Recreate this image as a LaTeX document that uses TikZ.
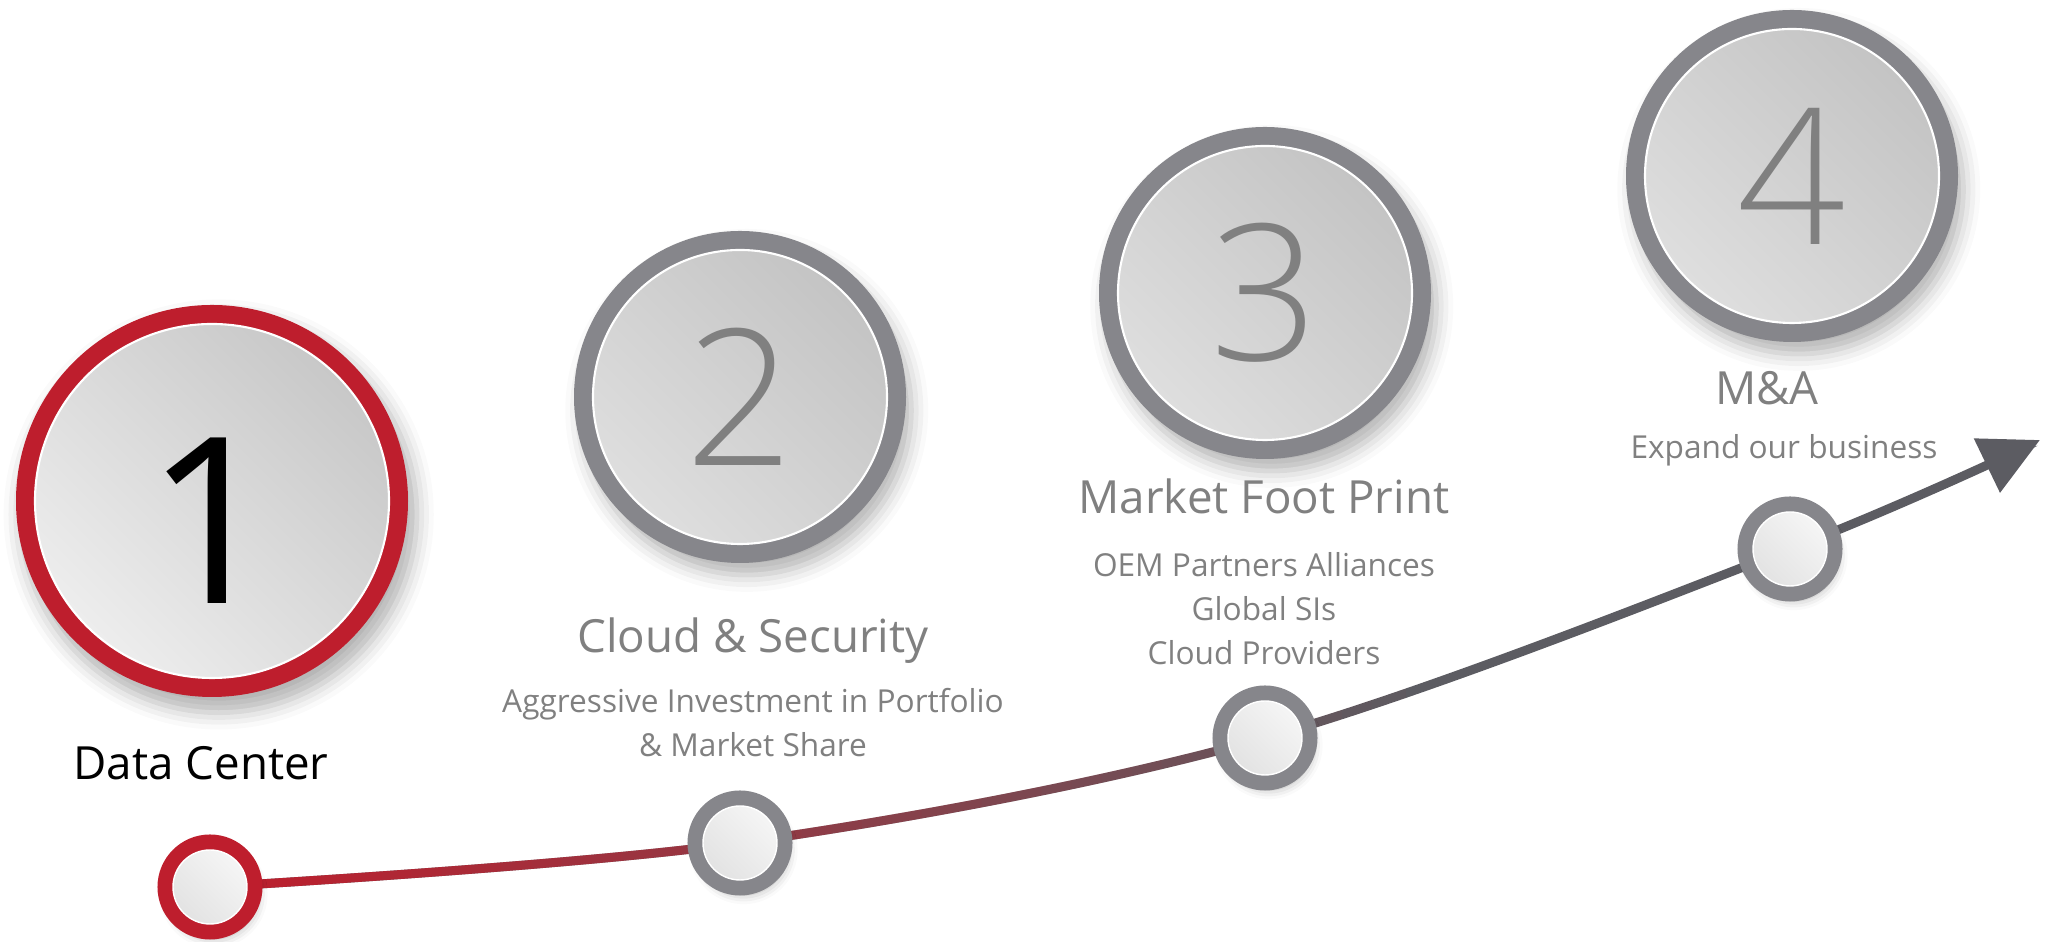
\documentclass[tikz,border=0pt]{standalone}
\usepackage{fontspec}
\setmainfont{Open Sans}
\newfontfamily\digitfont{Open Sans Light}
\usetikzlibrary{positioning,backgrounds,arrows.meta,fadings,shadows.blur}
\definecolor{ringred}{HTML}{BE1E2D}
\definecolor{ringgray}{HTML}{86868B}
\definecolor{textgray}{HTML}{808080}
\definecolor{lineend}{HTML}{5C5C62}
\definecolor{discdark}{HTML}{C4C4C4}
\definecolor{disclight}{HTML}{DEDEDE}
\definecolor{firstdark}{HTML}{C8C8C8}
\definecolor{firstlight}{HTML}{EDEDED}
% path box sits on -25bp..25bp of the fading
\begin{tikzfadingfrompicture}[name=fade red, x=1bp, y=1bp]
  \fill[transparent!0] (-50,-50) rectangle (-24.9,50);
  \foreach \k in {0,...,39} {
    \pgfmathtruncatemacro{\p}{100*\k/40}
    \fill[transparent!\p] ({-25+0.8125*\k},-50) rectangle ({-24.1+0.8125*\k},50);
  }
  \path (-50,-50) rectangle (50,50);
\end{tikzfadingfrompicture}

\begin{document}
\begin{tikzpicture}[
    stage/.style={circle, inner sep=0, minimum size=2.94cm,
        blur shadow={shadow xshift=0.6mm, shadow yshift=-1.2mm, shadow scale=1.12,
            shadow blur radius=1.5mm, shadow opacity=30},
        preaction={draw=#1, line width=0.38cm},
        draw=white, line width=0.6pt,
        top color=discdark, bottom color=disclight, shading angle=-45,
        text=textgray, font=\digitfont\fontsize{54}{54}\selectfont},
    stage/.default=ringgray,
    knob/.style={circle, inner sep=0, minimum size=0.74cm,
        blur shadow={shadow xshift=0.3mm, shadow yshift=-0.6mm, shadow scale=1.2,
            shadow blur radius=0.8mm, shadow opacity=30},
        preaction={draw=#1, line width=0.31cm},
        draw=white, line width=0.4pt,
        top color=white!92!gray, bottom color=gray!22, shading angle=-45},
    knob/.default=ringgray,
    title/.style={text=textgray, font=\fontsize{13}{15}\selectfont, inner sep=0, anchor=base},
    sub/.style={text=textgray, font=\fontsize{9}{12.5}\selectfont, inner sep=0, align=center},
    track/.style={line width=0.09cm}
]
    \useasboundingbox (0,0) rectangle (20.49,9.42);

    \node[stage=ringred, minimum size=3.54cm, top color=firstdark, bottom color=firstlight,
        shading angle=-45, text=black, font=\fontsize{66}{66}\selectfont,
        text height=2.06cm, text depth=0cm] (c1) at (2.12,4.41) {1};
    \node[stage] (c2) at (7.40,5.45) {2};
    \node[stage] (c3) at (12.65,6.49) {3};
    \node[stage] (c4) at (17.92,7.66) {4};

    \node[knob=ringred] (d1) at (2.10,0.55) {};
    \node[knob] (d2) at (7.40,0.99) {};
    \node[knob] (d3) at (12.65,2.04) {};
    \node[knob] (d4) at (17.90,3.93) {};
    \coordinate (tip) at (20.40,5.02);

    \node[title, text=black] (t1) at (2.01,1.62) {Data Center};
    \node[title] (t2) at (7.53,2.89) {Cloud \& Security};
    \node[sub, below=0.23cm of t2] (s2) {Aggressive Investment in Portfolio\\\& Market Share};
    \node[title] (t3) at (12.64,4.28) {Market Foot Print};
    \node[sub, below=0.37cm of t3] (s3) {OEM Partners Alliances\\Global SIs\\Cloud Providers};
    \node[title] (t4) at (17.67,5.37) {M\&A};
    \node[sub, below=0.28cm of t4, xshift=0.17cm] (s4) {Expand our business};

    \begin{pgfonlayer}{background}
        \draw[track, lineend, -{Triangle[length=0.59cm, width=0.58cm]}]
            plot[smooth, tension=0.55] coordinates {(d1) (d2) (d3) (d4) (tip)};
        \draw[track, ringred, path fading=fade red]
            plot[smooth, tension=0.55] coordinates {(d1) (d2) (d3) (d4) (tip)};
    \end{pgfonlayer}
\end{tikzpicture}
\end{document}
